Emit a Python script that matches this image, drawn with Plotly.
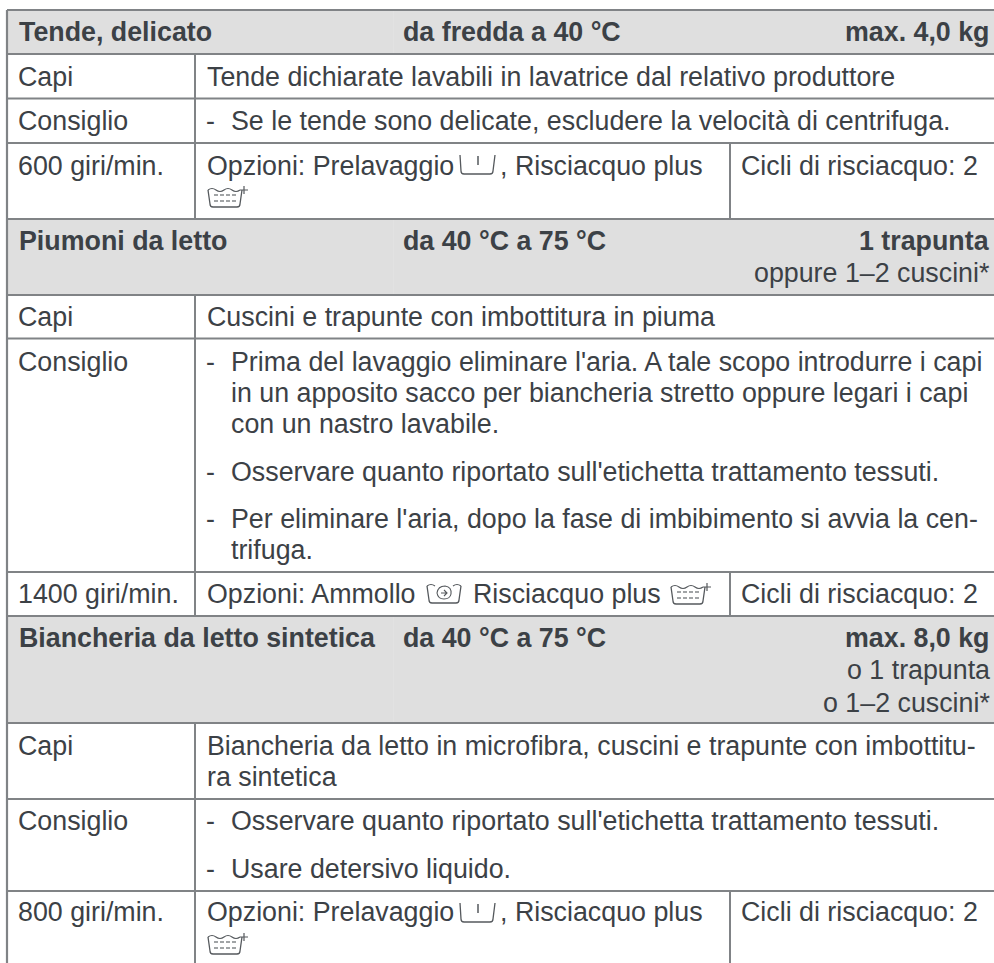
import plotly.graph_objects as go

# --- table content ---
headers_left = ["Tende, delicato", "Piumoni da letto", "Biancheria da letto sintetica"]
headers_mid = ["da fredda a 40 °C", "da 40 °C a 75 °C", "da 40 °C a 75 °C"]
headers_right = ["max. 4,0 kg", "1 trapunta", "max. 8,0 kg"]
right_notes = ["oppure 1–2 cuscini*", "o 1 trapunta", "o 1–2 cuscini*"]
row_labels = ["Capi", "Consiglio", "600 giri/min.", "Capi", "Consiglio", "1400 giri/min.", "Capi", "Consiglio", "800 giri/min."]
body_plain = [
    "Tende dichiarate lavabili in lavatrice dal relativo produttore",
    "Opzioni: Prelavaggio",
    ", Risciacquo plus",
    "Cuscini e trapunte con imbottitura in piuma",
    "Opzioni: Ammollo",
    "Risciacquo plus",
    "Biancheria da letto in microfibra, cuscini e trapunte con imbottitu-",
    "ra sintetica",
    "Opzioni: Prelavaggio",
    ", Risciacquo plus",
]
tips = [
    "Se le tende sono delicate, escludere la velocità di centrifuga.",
    "Prima del lavaggio eliminare l'aria. A tale scopo introdurre i capi",
    "in un apposito sacco per biancheria stretto oppure legari i capi",
    "con un nastro lavabile.",
    "Osservare quanto riportato sull'etichetta trattamento tessuti.",
    "Per eliminare l'aria, dopo la fase di imbibimento si avvia la cen-",
    "trifuga.",
    "Osservare quanto riportato sull'etichetta trattamento tessuti.",
    "Usare detersivo liquido.",
]
cycles = "Cicli di risciacquo: 2"

FONT = "Liberation Sans"
TXT = "#3c4146"
LINE = "#808386"
FS = 26.8

shapes, ann = [], []

def rect(x0, y0, x1, y1, fill):
    shapes.append(dict(type="rect", x0=x0, y0=y0, x1=x1, y1=y1, fillcolor=fill, line_width=0, layer="below"))

def line(x0, y0, x1, y1, w=2.0, c=LINE):
    shapes.append(dict(type="line", x0=x0, y0=y0, x1=x1, y1=y1, line=dict(color=c, width=w)))

def text(x, y, s, anchor="left", bold=False):
    ann.append(dict(x=x, y=y, text=f"<b>{s}</b>" if bold else s, xanchor=anchor, yanchor="middle",
                    showarrow=False, font=dict(family=FONT, size=FS, color=TXT),
                    borderpad=0, borderwidth=0, align=anchor))

def path(d, w=1.3):
    shapes.append(dict(type="path", path=d, line=dict(color="#55595d", width=w), fillcolor="rgba(0,0,0,0)"))

def icon_prewash(x, y):
    path(f"M{x},{y} L{x+1},{y+16} Q{x+1},{y+19} {x+4},{y+19} L{x+30},{y+19} Q{x+33},{y+19} {x+33},{y+16} L{x+35},{y}")
    path(f"M{x+18},{y+1} L{x+18},{y+10}", 1.5)

def icon_rinse(x, y):
    path(f"M{x},{y+3} L{x+2},{y+17} Q{x+2},{y+20} {x+5},{y+20} L{x+29},{y+20} Q{x+32},{y+20} {x+32},{y+17} L{x+34},{y+3}")
    path(f"M{x},{y+3} Q{x+4},{y} {x+8},{y+3} Q{x+12},{y+6} {x+16},{y+3} Q{x+20},{y} {x+24},{y+3} Q{x+28},{y+6} {x+32},{y+3}", 1.1)
    for yy in (y + 8, y + 14):
        for k in range(4):
            path(f"M{x+6+k*6},{yy} L{x+10+k*6},{yy}", 1.1)
    path(f"M{x+32},{y+3} L{x+40},{y+3} M{x+36},{y-1} L{x+36},{y+7}", 1.2)

def icon_soak(x, y):
    path(f"M{x},{y+3} L{x+2},{y+17} Q{x+2},{y+20} {x+5},{y+20} L{x+29},{y+20} Q{x+32},{y+20} {x+32},{y+17} L{x+34},{y+3}")
    path(f"M{x},{y+3} Q{x+4},{y} {x+8},{y+3} M{x+26},{y+3} Q{x+30},{y} {x+34},{y+3}", 1.1)
    path(f"M{x+10},{y+10} Q{x+11},{y+3} {x+18},{y+3} Q{x+25},{y+4} {x+24},{y+11} Q{x+23},{y+16} {x+17},{y+16} Q{x+11},{y+16} {x+10},{y+10} M{x+14},{y+10} L{x+20},{y+10} M{x+17},{y+7} L{x+20},{y+10} L{x+17},{y+13}", 1.1)

# section backgrounds
for y0, y1 in [(10, 54), (219, 295), (616, 723)]:
    rect(7, y0, 994, y1, "#dfdfdf")
    line(393.5, y0 + 1, 393.5, y1 - 1, 1, "#e2e2e2")

# horizontal rules
for y in [10, 54, 98.5, 143, 219, 295, 338.5, 572, 616, 723, 799, 891]:
    line(7, y, 994, y, 2.0)
# verticals
line(7, 10, 7, 963, 2.2)
for y0, y1 in [(54, 219), (295, 616), (723, 963)]:
    line(195, y0, 195, y1, 2.0)
for y0, y1 in [(143, 219), (572, 616), (891, 963)]:
    line(730, y0, 730, y1, 2.0)

# headers
RIGHT = 990
for i, y in enumerate([32, 241, 638]):
    text(19, y, headers_left[i], bold=True)
    text(403, y, headers_mid[i], bold=True)
    text(RIGHT, y, headers_right[i], anchor="right", bold=True)
text(RIGHT, 273, right_notes[0], anchor="right")
text(RIGHT, 670, right_notes[1], anchor="right")
text(RIGHT, 703, right_notes[2], anchor="right")

# row labels
for lab, y in zip(row_labels, [77, 121, 166, 317, 362, 594, 746, 821, 912]):
    text(18, y, lab)

# body
BX, DX, TX = 207, 206, 231
text(BX, 77, body_plain[0])
text(BX, 166, body_plain[1]); icon_prewash(460, 155); text(500, 166, body_plain[2])
icon_rinse(208, 187)
text(BX, 317, body_plain[3])
text(BX, 594, body_plain[4]); icon_soak(427, 583); text(473, 594, body_plain[5]); icon_rinse(671, 584)
text(BX, 746, body_plain[6]); text(BX, 777, body_plain[7])
text(BX, 912, body_plain[8]); icon_prewash(460, 903); text(500, 912, body_plain[9])
icon_rinse(208, 934)

for s, y, dash in zip(tips, [121, 362, 393, 424, 472, 519, 550, 821, 869],
                      [1, 1, 0, 0, 1, 1, 0, 1, 1]):
    if dash:
        text(DX, y, "-")
    text(TX, y, s)

for y in [166, 594, 912]:
    text(741, y, cycles)

fig = go.Figure()
fig.update_layout(
    width=994, height=963, margin=dict(l=0, r=0, t=0, b=0), autosize=False,
    paper_bgcolor="white", plot_bgcolor="white", showlegend=False,
    xaxis=dict(range=[0, 994], visible=False, fixedrange=True),
    yaxis=dict(range=[963, 0], visible=False, fixedrange=True),
    shapes=shapes, annotations=ann,
)
fig.write_html("out.html", config={"displayModeBar": False},
               post_script="document.body.style.margin='0';document.body.style.overflow='hidden';")
